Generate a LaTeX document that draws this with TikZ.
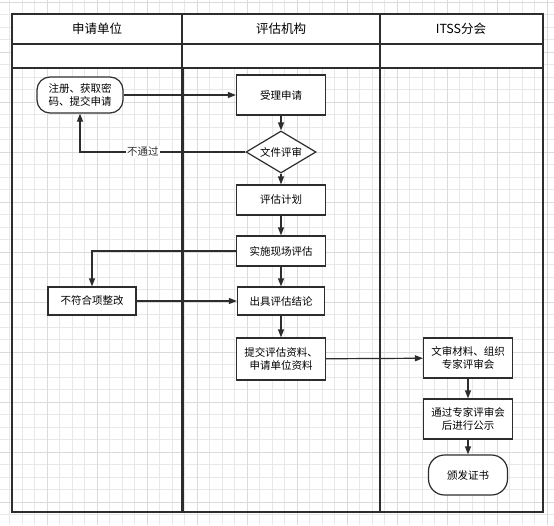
\documentclass[tikz,border=0pt]{standalone}
\usepackage{fontspec}
\setmainfont{Noto Sans CJK SC}
\usetikzlibrary{arrows.meta,shapes.geometric}
\definecolor{gridminor}{RGB}{232,232,232}
\definecolor{gridmajor}{RGB}{218,218,218}
\definecolor{ink}{RGB}{45,45,45}

\begin{document}
\begin{tikzpicture}[x=1pt, y=-1pt, font=\fontsize{10.5}{12.5}\selectfont,
  box/.style={draw=ink, line width=1.2pt, fill=white, minimum width=89pt, minimum height=30pt, align=center, inner sep=2pt},
  term/.style={box, rounded corners=13pt},
  check/.style={draw=ink, line width=1.2pt, fill=white, diamond, aspect=1.67, inner sep=0pt, minimum width=70pt, minimum height=42pt},
  flow/.style={ink, line width=1.2pt, -{Triangle[length=8pt,width=6pt]}}]
\useasboundingbox (0,0) rectangle (554,525);
\fill[white] (0,0) rectangle (554,525);
% background grid
\foreach \k in {0,...,44} {
  \draw[gridminor, line width=0.8pt] (9.8+12.5*\k,0) -- (9.8+12.5*\k,525);
}
\foreach \k in {0,...,41} {
  \draw[gridminor, line width=0.8pt] (0,2+12.5*\k) -- (554,2+12.5*\k);
}
\foreach \k in {0,...,11} {
  \draw[gridmajor, line width=0.9pt] (-2.7+50*\k,0) -- (-2.7+50*\k,525);
  \draw[gridmajor, line width=0.9pt] (0,2+50*\k) -- (554,2+50*\k);
}
% lanes
\fill[white] (12,14) rectangle (543,68);
\draw[ink, line width=1.3pt] (12,14) rectangle (543,512);
\draw[ink, line width=1.3pt] (12,44) -- (543,44);
\draw[ink, line width=1.3pt] (12,68) -- (543,68);
\draw[ink, line width=1.3pt] (182,14) -- (182,68);
\draw[ink, line width=1.8pt] (380,14) -- (380,512);
\draw[ink, line width=3pt] (182,68) -- (182,512);
\node (lane1) at (97,29) {\fontsize{12.5}{14}\selectfont 申请单位};
\node (lane2) at (281,29) {\fontsize{12.5}{14}\selectfont 评估机构};
\node (lane3) at (461,29) {\fontsize{12.5}{14}\selectfont ITSS分会};
% steps
\node[term, minimum width=86pt, minimum height=36pt] (apply) at (80,95) {注册、获取密\\码、提交申请};
\node[box, minimum height=40pt] (accept) at (281,95) {受理申请};
\node[check] (review) at (281,152) {文件评审};
\node[box] (plan) at (281,200) {评估计划};
\node[box] (onsite) at (281,251) {实施现场评估};
\node[box, minimum width=88pt, minimum height=28pt] (fix) at (92,301) {不符合项整改};
\node[box, minimum width=87pt, minimum height=28pt] (result) at (281,301) {出具评估结论};
\node[box, minimum height=42pt] (submit) at (281,359) {提交评估资料、\\申请单位资料};
\node[box, minimum height=40pt] (meeting) at (468,358) {文审材料、组织\\专家评审会};
\node[box, minimum height=40pt] (publish) at (468,419) {通过专家评审会\\后进行公示};
\node[term, minimum width=79pt, minimum height=40pt, rounded corners=16pt] (cert) at (468,475) {颁发证书};
% arrows
\draw[flow] (apply) -- (accept);
\draw[flow] (accept) -- (review);
\draw[flow] (review.west) -| node[pos=0.31, fill=white, inner sep=1pt] {不通过} (apply.south);
\draw[flow] (review) -- (plan);
\draw[flow] (plan) -- (onsite);
\draw[flow] (onsite.west) -| (fix.north);
\draw[flow] (onsite) -- (result);
\draw[flow] (fix) -- (result);
\draw[flow] (result) -- (submit);
\draw[flow] (submit) -- (meeting);
\draw[flow] (meeting) -- (publish);
\draw[flow] (publish) -- (cert);
\end{tikzpicture}
\end{document}
